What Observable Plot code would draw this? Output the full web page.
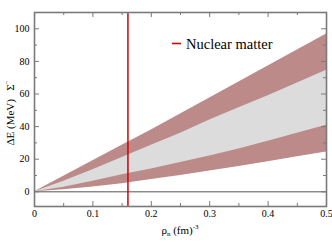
<!DOCTYPE html>
<html><head><meta charset="utf-8">
<script src="https://cdn.jsdelivr.net/npm/d3@7"></script>
<script src="https://cdn.jsdelivr.net/npm/@observablehq/plot@0.6"></script>
<style>
body{margin:0;background:#fff;}
</style></head>
<body><div id="chart"></div>
<script>
const rho = [0, 0.05, 0.1, 0.15, 0.2, 0.25, 0.3, 0.35, 0.4, 0.45, 0.5];
const outerTop = [0, 9.5, 19, 28.5, 38, 47.8, 57.6, 67.4, 77.2, 87, 96.8];
const innerTop = [0, 6.5, 13.5, 21, 28.5, 36, 44, 51.5, 59, 66.8, 74.5];
const innerBottom = [0, 2.8, 6.5, 10.5, 14, 18, 22, 26.3, 31, 36, 40.8];
const outerBottom = [0, 1.2, 3, 5, 7.5, 10, 12.8, 15.5, 18.5, 21.5, 24.5];
const nuclearMatter = [0.16];
const xMajor = [0, 0.1, 0.2, 0.3, 0.4, 0.5];
const xMinor = [0.05, 0.15, 0.25, 0.35, 0.45];
const yMajor = [0, 20, 40, 60, 80, 100];
const yMinor = [10, 30, 50, 70, 90];

const data = rho.map((r, i) => ({r, ot: outerTop[i], it: innerTop[i], ib: innerBottom[i], ob: outerBottom[i]}));

const W = 332, H = 242, mL = 34, mR = 6, mT = 12, mB = 36;
const iw = W - mL - mR, ih = H - mT - mB;
const pink = "#bb8a89", grey = "#dcdcdc", red = "#d40000", frameC = "#7a7a7a";

const plot = Plot.plot({
  width: W, height: H,
  marginLeft: mL, marginRight: mR, marginTop: mT, marginBottom: mB,
  style: {fontFamily: "'Liberation Serif', serif", fontSize: "10px", color: "#000", background: "#fff"},
  x: {domain: [0, 0.5]},
  y: {domain: [-9, 110]},
  marks: [
    Plot.areaY(data, {x: "r", y1: "ob", y2: "ot", fill: pink}),
    Plot.areaY(data, {x: "r", y1: "ib", y2: "it", fill: grey}),
    Plot.ruleY([0], {stroke: "#555", strokeWidth: 1}),
    Plot.ruleX(nuclearMatter, {x: d => d, stroke: red, strokeWidth: 1.5}),
    Plot.tickX(xMajor, {x: d => d, insetTop: ih - 5, stroke: frameC}),
    Plot.tickX(xMinor, {x: d => d, insetTop: ih - 3, stroke: frameC}),
    Plot.tickX(xMajor, {x: d => d, insetBottom: ih - 5, stroke: frameC}),
    Plot.tickX(xMinor, {x: d => d, insetBottom: ih - 3, stroke: frameC}),
    Plot.tickY(yMajor, {y: d => d, insetRight: iw - 5, stroke: frameC}),
    Plot.tickY(yMinor, {y: d => d, insetRight: iw - 3, stroke: frameC}),
    Plot.tickY(yMajor, {y: d => d, insetLeft: iw - 5, stroke: frameC}),
    Plot.tickY(yMinor, {y: d => d, insetLeft: iw - 3, stroke: frameC}),
    Plot.axisX(xMajor, {tickSize: 0, tickPadding: 3, label: null, tickFormat: d => d === 0 ? "0" : String(d)}),
    Plot.axisY(yMajor, {tickSize: 0, tickPadding: 5, label: null}),
    Plot.frame({stroke: frameC, strokeWidth: 1.6})
  ]
});
document.getElementById("chart").appendChild(plot);

const svg = d3.select(plot);
// legend
svg.append("line").attr("x1", 172).attr("x2", 181).attr("y1", 43.5).attr("y2", 43.5)
  .attr("stroke", red).attr("stroke-width", 1.6);
svg.append("text").attr("x", 186).attr("y", 48.5).attr("font-size", 14.5).attr("fill", "#000")
  .attr("text-anchor", "start").text("Nuclear matter");
// x title
const xt = svg.append("text").attr("x", (mL + W - mR) / 2).attr("y", 234)
  .attr("text-anchor", "middle").attr("font-size", 11).attr("fill", "#000");
xt.append("tspan").text("ρ");
xt.append("tspan").attr("font-size", 7).attr("dy", 2).text("n");
xt.append("tspan").attr("dy", -2).text(" (fm)");
xt.append("tspan").attr("font-size", 7).attr("dy", -5).text("-3");
// y title
const yt = svg.append("text").attr("transform", "translate(14,113) rotate(-90)")
  .attr("text-anchor", "middle").attr("font-size", 11).attr("fill", "#000");
yt.append("tspan").text("ΔE (MeV)   Σ");
yt.append("tspan").attr("font-size", 7).attr("dy", -5).text("−");
</script></body></html>
